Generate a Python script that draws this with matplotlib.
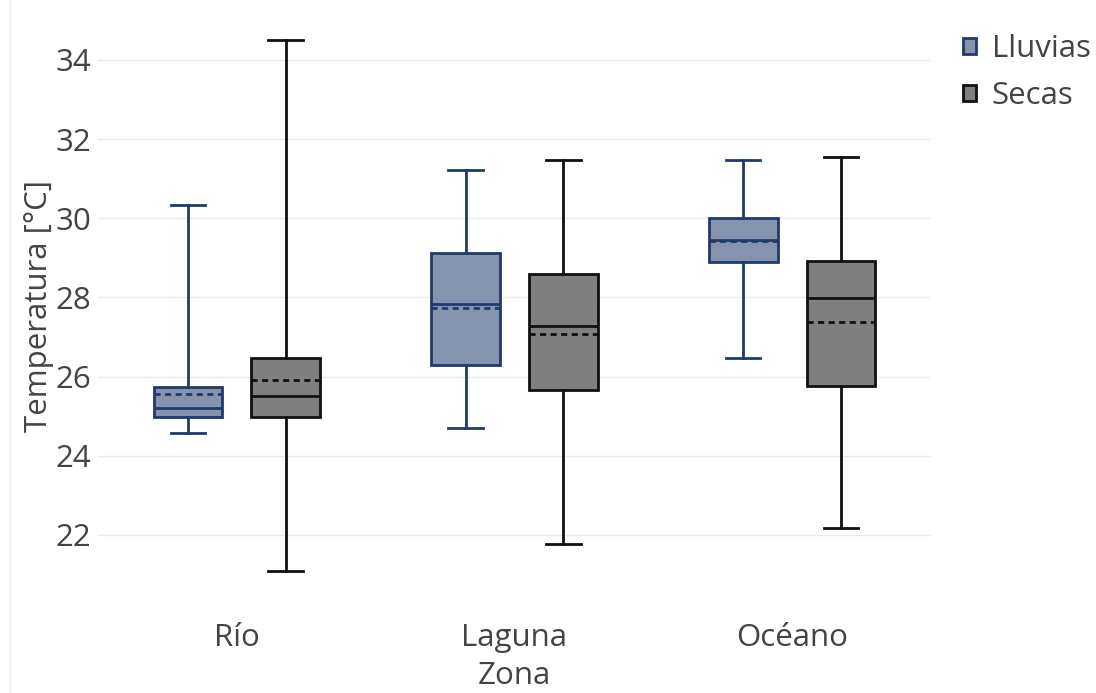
import numpy as np
import matplotlib.pyplot as plt
from matplotlib.lines import Line2D
from matplotlib.patches import Patch

plt.rcParams['font.family'] = ['Open Sans', 'DejaVu Sans']

# Data: precomputed box statistics per zone and season
zonas = ['Río', 'Laguna', 'Océano']
estaciones = ['Lluvias', 'Secas']

lluvias_min = [24.58, 24.70, 26.47]
lluvias_q1 = [24.97, 26.29, 28.90]
lluvias_med = [25.21, 27.84, 29.46]
lluvias_mean = [25.56, 27.73, 29.43]
lluvias_q3 = [25.74, 29.12, 30.00]
lluvias_max = [30.34, 31.22, 31.47]

secas_min = [21.09, 21.77, 22.18]
secas_q1 = [24.99, 25.66, 25.76]
secas_med = [25.52, 27.28, 27.99]
secas_mean = [25.92, 27.08, 27.37]
secas_q3 = [26.46, 28.59, 28.91]
secas_max = [34.50, 31.47, 31.55]

colores_borde = ['#1f3a6b', '#111111']
colores_relleno = ['#8593ad', '#7f7f7f']
texto = '#444444'
fs = 22.5

fig = plt.figure(figsize=(10.96, 6.93), dpi=100)
ax = fig.add_axes([0.0894, 0.1378, 0.760, 0.8425])

series = [
    (lluvias_min, lluvias_q1, lluvias_med, lluvias_mean, lluvias_q3, lluvias_max),
    (secas_min, secas_q1, secas_med, secas_mean, secas_q3, secas_max),
]
offsets = [-0.176, 0.176]
ancho = 0.248

for s, (mn, q1, med, mean, q3, mx) in enumerate(series):
    stats = []
    for i in range(len(zonas)):
        stats.append({'whislo': mn[i], 'q1': q1[i], 'med': med[i], 'mean': mean[i],
                      'q3': q3[i], 'whishi': mx[i], 'fliers': []})
    pos = np.arange(len(zonas)) + offsets[s]
    ec = colores_borde[s]
    ax.bxp(stats, positions=pos, widths=ancho, patch_artist=True,
           showmeans=True, meanline=True, showfliers=False,
           boxprops=dict(facecolor=colores_relleno[s], edgecolor=ec, linewidth=2),
           medianprops=dict(color=ec, linewidth=2),
           meanprops=dict(color=ec, linewidth=2, linestyle=(0, (2.2, 1.6))),
           whiskerprops=dict(color=ec, linewidth=2),
           capprops=dict(color=ec, linewidth=2), capwidths=ancho * 0.5,
           manage_ticks=False, zorder=3)

ax.set_xlim(-0.5, 2.5)
ax.set_ylim(20.42, 35.17)
ax.set_xticks(np.arange(len(zonas)))
ax.set_xticklabels(zonas)
ax.set_yticks(np.arange(22, 35, 2))
ax.grid(axis='y', color='#ebebeb', linewidth=1)
ax.set_axisbelow(True)
for sp in ax.spines.values():
    sp.set_visible(False)
ax.tick_params(length=0, labelsize=fs, colors=texto, pad=5)
ax.tick_params(axis='x', pad=18)
ax.set_xlabel('Zona', fontsize=fs, color=texto, labelpad=6)
ax.set_ylabel('Temperatura [°C]', fontsize=fs, color=texto, labelpad=1)

handles = [Patch(facecolor=colores_relleno[k], edgecolor=colores_borde[k], linewidth=2)
           for k in range(2)]
fig.legend(handles, estaciones, loc='upper left', bbox_to_anchor=(963 / 1096, 1 - 34 / 693),
           frameon=False, fontsize=fs, labelcolor=texto, handlelength=0.42,
           handleheight=0.42, handletextpad=0.5, labelspacing=0.55,
           borderpad=0, borderaxespad=0)

fig.add_artist(Line2D([0.0095, 0.0095], [0, 1], transform=fig.transFigure,
                      color='#efefef', linewidth=1))

fig.savefig('out.png', dpi=100)
